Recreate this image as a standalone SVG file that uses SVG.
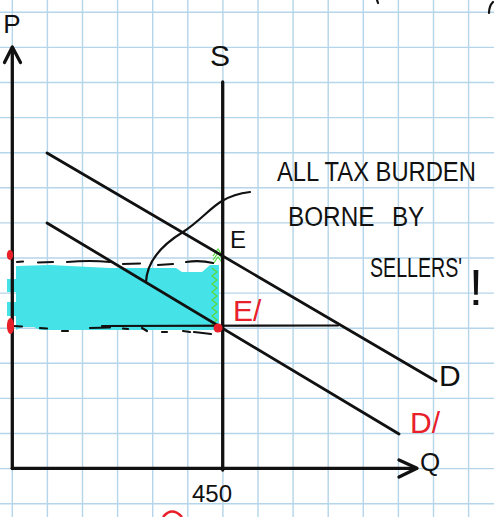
<svg xmlns="http://www.w3.org/2000/svg" width="494" height="517" viewBox="0 0 494 517">
<style>
.grid line{stroke:#b4d5ea;stroke-width:1.4}
.ink{stroke:#111;fill:none;stroke-linecap:round;stroke-linejoin:round}
.ax{stroke-width:3.3}
.crv{stroke-width:2.8}
.thin{stroke-width:2.2}
.dash{stroke:#111;stroke-width:2.2;stroke-linecap:round;fill:none}
.lbl{font-family:"Liberation Sans",Arial,sans-serif;fill:#111}
.red{font-family:"Liberation Sans",Arial,sans-serif;fill:#e8202a}
.green{stroke:#55dd3c;stroke-width:1.2;fill:none}
</style>
<rect width="494" height="517" fill="#ffffff"/>
<g class="grid" id="grid">
<line x1="12.3" y1="0" x2="12.3" y2="517"/><line x1="47.4" y1="0" x2="47.4" y2="517"/><line x1="82.5" y1="0" x2="82.5" y2="517"/><line x1="117.6" y1="0" x2="117.6" y2="517"/><line x1="152.7" y1="0" x2="152.7" y2="517"/><line x1="187.8" y1="0" x2="187.8" y2="517"/><line x1="222.9" y1="0" x2="222.9" y2="517"/><line x1="258" y1="0" x2="258" y2="517"/><line x1="293.1" y1="0" x2="293.1" y2="517"/><line x1="328.2" y1="0" x2="328.2" y2="517"/><line x1="363.3" y1="0" x2="363.3" y2="517"/><line x1="398.4" y1="0" x2="398.4" y2="517"/><line x1="433.5" y1="0" x2="433.5" y2="517"/><line x1="468.6" y1="0" x2="468.6" y2="517"/>
<line x1="0" y1="12.3" x2="494" y2="12.3"/><line x1="0" y1="47.4" x2="494" y2="47.4"/><line x1="0" y1="82.5" x2="494" y2="82.5"/><line x1="0" y1="117.6" x2="494" y2="117.6"/><line x1="0" y1="152.7" x2="494" y2="152.7"/><line x1="0" y1="187.8" x2="494" y2="187.8"/><line x1="0" y1="222.9" x2="494" y2="222.9"/><line x1="0" y1="258" x2="494" y2="258"/><line x1="0" y1="293.1" x2="494" y2="293.1"/><line x1="0" y1="328.2" x2="494" y2="328.2"/><line x1="0" y1="363.3" x2="494" y2="363.3"/><line x1="0" y1="398.4" x2="494" y2="398.4"/><line x1="0" y1="433.5" x2="494" y2="433.5"/><line x1="0" y1="468.6" x2="494" y2="468.6"/><line x1="0" y1="503.7" x2="494" y2="503.7"/>
</g>
<g id="tax-area">
<path d="M16,266 L50,265 L110,268 L176,268 L182,272 L202,272 L210,265 L219,265 L219,330 L40,330 L34,327 L22,327 L16,330 L16,316 L7,316 L7,302 L16,302 L16,292 L7,292 L7,279 L16,279 Z" fill="#45e2e7"/>
<polyline class="green" points="213,256 218,249 223,256"/>
<polyline class="green" points="213,260 218,253 223,260"/>
<polyline class="green" points="213,264 218,257 223,264"/>
<polyline class="green" points="212,268 217,272 212,276 217,280 212,284 217,288 212,292 217,296 212,300 217,304 212,308 217,312 212,316 217,320 212,324 217,328"/>
</g>
<g id="axes">
<line class="ink ax" x1="12.3" y1="48" x2="12.3" y2="468.5"/>
<polyline class="ink ax" points="4.5,62.5 12.3,47 20.5,62.5"/>
<line class="ink ax" x1="12.3" y1="468.3" x2="416" y2="468.3"/>
<polyline class="ink ax" points="399,460 417,468.3 399,477"/>
</g>
<g id="supply-S">
<line class="ink ax" x1="222.7" y1="82" x2="222.7" y2="470"/>
</g>
<g id="demand-D">
<line class="ink crv" x1="47" y1="153" x2="436" y2="381"/>
</g>
<g id="demand-D2">
<line class="ink crv" x1="47" y1="223" x2="399" y2="434"/>
</g>
<g id="connectors">
<path class="ink thin" d="M146,282 C147,262 160,246 183,232 C200,221 210,208 222,201 C232,195 242,193 250,192"/>
<line class="ink thin" x1="102" y1="326" x2="338" y2="325.5"/>
<path class="dash" d="M17,262 L23,261.5 M38,262.5 L53,262 M67,262 Q90,260 110,262 M123,264 L140,263.5 M158,265 L173,264 M186,262 Q200,260 213,263"/>
<path class="dash" d="M13,326 L22,326.5 M40,328 L47,328.5 M62,331 L68,331 M90,328 L110,327.5 M123,328.5 L128,329 M142,328 L147,331 M162,332 L167,332 M183,331 L190,332 M194,332 Q203,333 211,334"/>
</g>
<g id="points">
<ellipse cx="10" cy="255" rx="3.2" ry="5" fill="#e8202a"/>
<ellipse cx="10.5" cy="326" rx="3.6" ry="8" fill="#e8202a"/>
<circle cx="218" cy="328" r="4.5" fill="#e8202a"/>
</g>
<g id="labels">
<text class="lbl" x="12" y="33" font-size="26" text-anchor="middle">P</text>
<text class="lbl" x="220" y="66" font-size="30" text-anchor="middle">S</text>
<text class="lbl" x="230" y="248" font-size="24">E</text>
<text class="red" x="233" y="321" font-size="30">E/</text>
<text class="lbl" x="439" y="386" font-size="30">D</text>
<text class="red" x="410" y="433" font-size="30">D/</text>
<text class="lbl" x="420" y="471" font-size="26">Q</text>
<text class="lbl" x="212" y="502" font-size="24" text-anchor="middle">450</text>
<text class="lbl" transform="translate(277,181) scale(0.88,1)" font-size="27">ALL TAX BURDEN</text>
<text class="lbl" transform="translate(288,226) scale(0.9,1)" font-size="27" word-spacing="12">BORNE BY</text>
<text class="lbl" transform="translate(370,277) scale(0.7,1)" font-size="28">SELLERS'</text>
<text class="lbl" x="469" y="305" font-size="50">!</text>
</g>
<g id="fragments">
<path class="ink thin" d="M377,0 L378,3"/>
<path class="ink thin" d="M493,2 Q489,6 489,13"/>
<path d="M163,517 Q172,506 182,517" fill="none" stroke="#e8202a" stroke-width="2.5"/>
</g>
</svg>
